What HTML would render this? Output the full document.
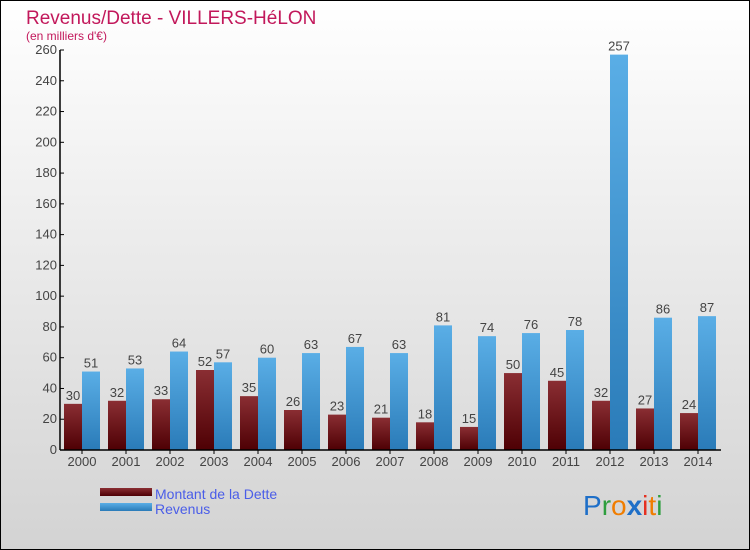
<!DOCTYPE html>
<html><head><meta charset="utf-8"><style>
body{margin:0;}
#c{width:750px;height:550px;position:relative;overflow:hidden;}
text{font-family:"Liberation Sans","DejaVu Sans",sans-serif;}
</style></head><body>
<div id="c">
<svg id="s" width="750" height="550" xmlns="http://www.w3.org/2000/svg">
<defs>
<linearGradient id="bg" x1="0" y1="0" x2="0" y2="1"><stop offset="0" stop-color="#ffffff"/><stop offset="1" stop-color="#d3d3d3"/></linearGradient>
<linearGradient id="gd" x1="0" y1="0" x2="0" y2="1"><stop offset="0" stop-color="#8a2e33"/><stop offset="1" stop-color="#4e0004"/></linearGradient>
<linearGradient id="gr" x1="0" y1="0" x2="0" y2="1"><stop offset="0" stop-color="#5aaee6"/><stop offset="1" stop-color="#2a7bb8"/></linearGradient>
</defs>
<rect x="0.5" y="0.5" width="749" height="549" fill="url(#bg)" stroke="#000"/>
<text x="26" y="24" font-size="19" fill="#c2185b">Revenus/Dette - VILLERS-HéLON</text>
<text x="26" y="40" font-size="12" fill="#c2185b">(en milliers d'€)</text>
<g id="plot"></g>
<g>
<rect x="100" y="488" width="52" height="8" fill="url(#gd)"/>
<text x="155" y="499" font-size="14" fill="#4a5de8">Montant de la Dette</text>
<rect x="100" y="503" width="52" height="8" fill="url(#gr)"/>
<text x="155" y="514" font-size="14" fill="#4a5de8">Revenus</text>
</g>
<text x="583" y="515" font-size="28"><tspan fill="#1e6fc8">P</tspan><tspan fill="#2e9e3e">r</tspan><tspan fill="#f07d00">o</tspan><tspan fill="#1e6fc8" font-weight="bold">x</tspan><tspan fill="#e53020">i</tspan><tspan fill="#f07d00">t</tspan><tspan fill="#2e9e3e">i</tspan></text>
</svg>
</div>
<script>
const years=["2000","2001","2002","2003","2004","2005","2006","2007","2008","2009","2010","2011","2012","2013","2014"];
const dette=[30,32,33,52,35,26,23,21,18,15,50,45,32,27,24];
const revenus=[51,53,64,57,60,63,67,63,81,74,76,78,257,86,87];
const ticks=[0,20,40,60,80,100,120,140,160,180,200,220,240,260];
const NS="http://www.w3.org/2000/svg";
const g=document.getElementById('plot');
const x0=60,y0=450,yTop=50,yMax=260,step=44;
const y=v=>y0-(v/yMax)*(y0-yTop);
function el(t,a){const e=document.createElementNS(NS,t);for(const k in a)e.setAttribute(k,a[k]);g.appendChild(e);return e;}
ticks.forEach(t=>{
 const l=el('line',{x1:x0,x2:x0+4,y1:y(t),y2:y(t),stroke:'#000'});
 
 
 const tx=el('text',{x:x0-3,y:y(t)+4,'font-size':13,'text-anchor':'end',fill:'#444'});
 tx.textContent=t;
 
 
});
years.forEach((yr,i)=>{
 const gx=62+step*i;
 const b1=el('rect',{x:gx+2,y:y(dette[i]),width:18,height:y0-y(dette[i]),fill:'url(#gd)'});
 
 
 const b2=el('rect',{x:gx+20,y:y(revenus[i]),width:18,height:y0-y(revenus[i]),fill:'url(#gr)'});
 
 
 const t1=el('text',{x:gx+11,y:y(dette[i])-4,'font-size':13,'text-anchor':'middle',fill:'#444'});
 t1.textContent=dette[i];
 
 
 const t2=el('text',{x:gx+29,y:y(revenus[i])-4,'font-size':13,'text-anchor':'middle',fill:'#444'});
 t2.textContent=revenus[i];
 
 
 const tk=el('line',{x1:gx+20,x2:gx+20,y1:y0,y2:y0+4,stroke:'#000'});
 
 
 const xl=el('text',{x:gx+20,y:y0+16,'font-size':13,'text-anchor':'middle',fill:'#444'});
 xl.textContent=yr;
 
 
});
const ya=el('line',{x1:x0,x2:x0,y1:yTop,y2:y0,stroke:'#000','stroke-width':1.5});


const xa=el('line',{x1:x0,x2:721,y1:y0,y2:y0,stroke:'#000','stroke-width':1.5});


</script>
</body></html>
